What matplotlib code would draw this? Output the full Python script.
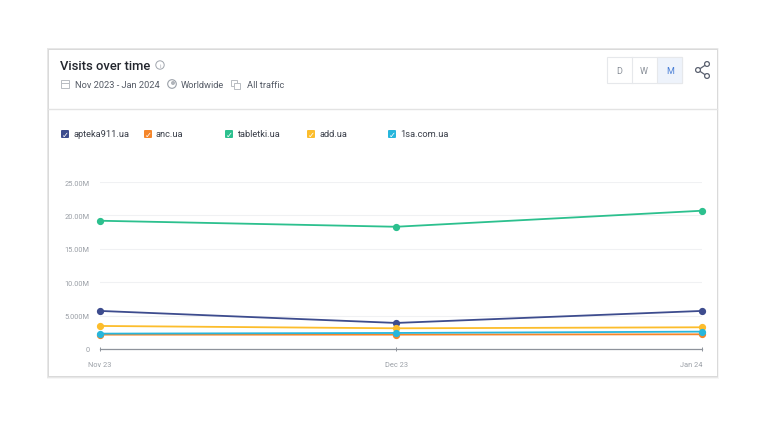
import numpy as np
import matplotlib
matplotlib.use("Agg")
import matplotlib.pyplot as plt
from matplotlib.patches import Rectangle, FancyBboxPatch, Circle

plt.rcParams['font.family'] = ['Roboto', 'DejaVu Sans']

# data (visits, millions); x is days from 1 Nov 2023
months = ['Nov 23', 'Dec 23', 'Jan 24']
month_day = [0, 30, 61]
sites = ['apteka911.ua', 'anc.ua', 'tabletki.ua', 'add.ua', '1sa.com.ua']
apteka911 = [5.7, 3.9, 5.7]
anc = [2.15, 2.15, 2.2]
tabletki = [19.2, 18.3, 20.7]
add = [3.45, 3.1, 3.25]
sa1 = [2.3, 2.4, 2.6]
colors = ['#3d4c8e', '#f5862a', '#2cc08e', '#fcbd2c', '#27b6dc']
yticks = [0, 5, 10, 15, 20, 25]
ytick_labels = ['0', '5.000M', '10.00M', '15.00M', '20.00M', '25.00M']

W, H = 764, 427
fig = plt.figure(figsize=(W / 100, H / 100), dpi=100)
fig.patch.set_facecolor('white')

# background axes in pixel coordinates for the card / header
bg = fig.add_axes([0, 0, 1, 1], zorder=0)
bg.set_xlim(0, W)
bg.set_ylim(H, 0)
bg.axis('off')

# card with a soft shadow (mostly below / right)
for d, a in [(3, 0.035), (2, 0.06), (1, 0.09)]:
    bg.add_patch(Rectangle((48 - d / 2, 50 - d / 3), 669 + d, 327 + d * 1.3,
                           facecolor=(0, 0, 0, a), edgecolor='none'))
bg.add_patch(Rectangle((48, 50), 669, 327, facecolor='white', edgecolor='#dadada', lw=0.7))
bg.plot([48, 717], [110, 110], color='#e3e3e3', lw=1)

# header text
bg.text(60, 66, 'Visits over time', fontsize=9.4, fontweight='medium', color='#23262e', va='center')
bg.add_patch(Circle((160, 66), 4.2, facecolor='none', edgecolor='#a0a5ad', lw=0.7))
bg.text(160, 66.5, 'i', fontsize=4.3, color='#a0a5ad', ha='center', va='center')

sub_col = '#555b66'
# calendar icon
bg.add_patch(Rectangle((61, 81), 8, 8, facecolor='none', edgecolor='#b8bcc2', lw=0.7))
bg.plot([61, 69], [83.5, 83.5], color='#b8bcc2', lw=0.7)
bg.text(75, 85, 'Nov 2023 - Jan 2024', fontsize=6.7, color=sub_col, va='center')
# globe icon
bg.add_patch(Circle((172, 85), 4.3, facecolor='none', edgecolor='#9aa0a8', lw=0.8))
bg.add_patch(Circle((173, 84), 2.0, facecolor='#b0b4ba', edgecolor='none'))
bg.text(181, 85, 'Worldwide', fontsize=6.7, color=sub_col, va='center')
# traffic icon
bg.add_patch(Rectangle((231, 81), 6, 6, facecolor='none', edgecolor='#b8bcc2', lw=0.7))
bg.add_patch(Rectangle((234, 84), 6, 6, facecolor='white', edgecolor='#b8bcc2', lw=0.7))
bg.text(247, 85, 'All traffic', fontsize=6.7, color=sub_col, va='center')

# D / W / M toggle
bg.add_patch(Rectangle((607, 58), 75, 26, facecolor='white', edgecolor='#e6e8eb', lw=0.8))
bg.add_patch(Rectangle((657, 58), 25, 26, facecolor='#eef3fb', edgecolor='#e6e8eb', lw=0.8))
bg.plot([632, 632], [58, 84], color='#e6e8eb', lw=0.8)
for lab, px, c in [('D', 619, '#8a9099'), ('W', 644, '#8a9099'), ('M', 670, '#4a7fd6')]:
    bg.text(px, 71, lab, fontsize=6.5, color=c, ha='center', va='center')

# share icon
sx = [707, 698, 707]
sy = [65, 71, 77]
bg.plot(sx, sy, color='#5b6170', lw=0.9)
for px, py in zip(sx, sy):
    bg.add_patch(Circle((px, py), 2.4, facecolor='white', edgecolor='#5b6170', lw=0.9, zorder=5))

# legend
leg_x = [61, 144, 225, 307, 388]
for name, col, px in zip(sites, colors, leg_x):
    bg.add_patch(FancyBboxPatch((px, 131), 8, 8, boxstyle='round,pad=0,rounding_size=1',
                                facecolor=col, edgecolor='none'))
    bg.text(px + 4, 135.3, '\u2713', fontsize=6, color='white', ha='center', va='center',
            fontweight='bold', family='DejaVu Sans')
    bg.text(px + 12, 135, name, fontsize=6.7, color='#3a3f4a', va='center')

# chart
ax = fig.add_axes([100 / W, 1 - 350 / H, 602 / W, 167 / H], zorder=5)
ax.patch.set_alpha(0)
series = [tabletki, apteka911, add, anc, sa1]
order_cols = [colors[2], colors[0], colors[3], colors[1], colors[4]]
for vals, col in zip(series, order_cols):
    ax.plot(month_day, vals, color=col, lw=1.3, marker='o', ms=4.2, zorder=3, clip_on=False)

ax.set_xlim(0, 61)
ax.set_ylim(0, 25)
ax.set_yticks(yticks)
ax.set_yticklabels(ytick_labels)
ax.yaxis.grid(True, color='#f0f1f3', lw=0.8)
ax.set_axisbelow(True)
ax.set_xticks(month_day)
ax.set_xticklabels(months)
for s in ['top', 'right', 'left']:
    ax.spines[s].set_visible(False)
ax.spines['bottom'].set_color('#8e939b')
ax.spines['bottom'].set_linewidth(0.9)
ax.tick_params(axis='y', length=0, labelsize=5.3, labelcolor='#9a9fa6', pad=7.5)
ax.tick_params(axis='x', length=3, width=0.7, color='#8e939b', labelsize=5.3, labelcolor='#9a9fa6',
               pad=7, direction='inout')
for lab, ha in zip(ax.get_xticklabels(), ['center', 'center', 'right']):
    lab.set_ha(ha)

fig.savefig('out.png', dpi=100, facecolor='white')
